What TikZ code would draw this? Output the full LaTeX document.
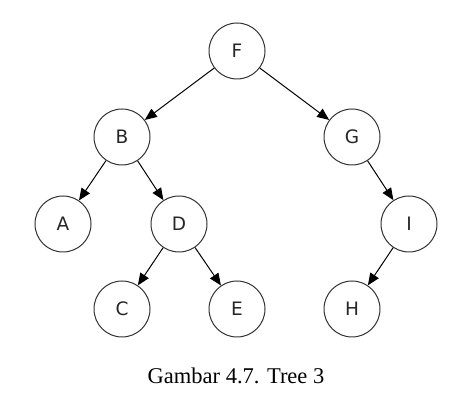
\documentclass[tikz,border=0pt]{standalone}
\usepackage{fontspec}
\setmainfont{Liberation Serif}
\newfontfamily\nodefont{DejaVu Sans}
\usetikzlibrary{arrows.meta}

\begin{document}
\begin{tikzpicture}[x=1pt,y=-1pt,
	vertex/.style={circle,draw=black!80,line width=1pt,minimum size=56pt,inner sep=0pt,font=\nodefont\fontsize{18.5}{18.5}\selectfont,text=black!85},
	edge/.style={line width=1pt,-{Triangle[length=12pt,width=10pt]}}]
	\useasboundingbox (0,0) rectangle (474,411);
	\node[vertex] (F) at (237,51) {F};
	\node[vertex] (B) at (122,137) {B};
	\node[vertex] (G) at (352,137) {G};
	\node[vertex] (A) at (63,224) {A};
	\node[vertex] (D) at (179,224) {D};
	\node[vertex] (I) at (409,224) {I};
	\node[vertex] (C) at (122,309) {C};
	\node[vertex] (E) at (237,309) {E};
	\node[vertex] (H) at (352,309) {H};
	\draw[edge] (F) -- (B);
	\draw[edge] (F) -- (G);
	\draw[edge] (B) -- (A);
	\draw[edge] (B) -- (D);
	\draw[edge] (G) -- (I);
	\draw[edge] (D) -- (C);
	\draw[edge] (D) -- (E);
	\draw[edge] (I) -- (H);
	\node[font=\fontsize{22.5}{22.5}\selectfont] (cap) at (236,376) {Gambar 4.7. Tree 3};
\end{tikzpicture}
\end{document}
